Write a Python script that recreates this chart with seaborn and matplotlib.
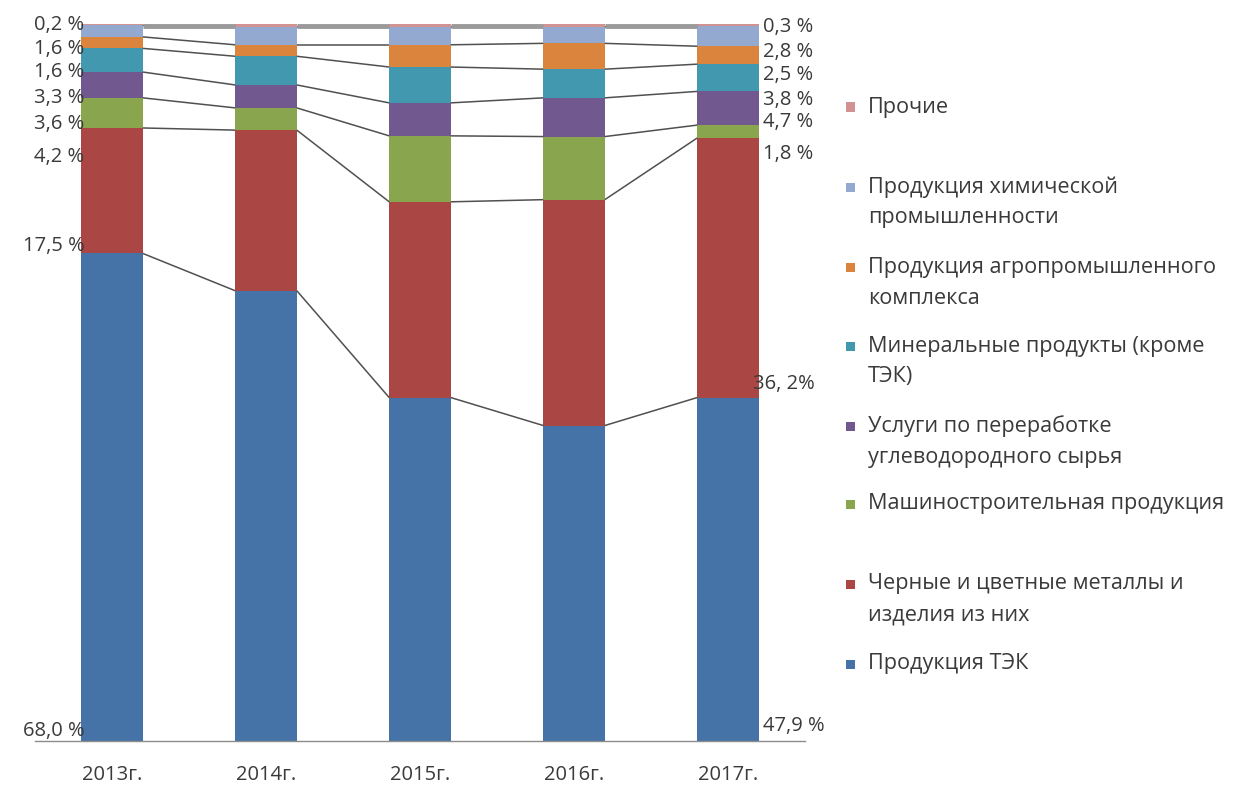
import matplotlib
matplotlib.use("Agg")
import matplotlib.pyplot as plt
import seaborn as sns
import numpy as np
import pandas as pd
from matplotlib.patches import Rectangle

# ---------------- data ----------------
years = ['2013г.', '2014г.', '2015г.', '2016г.', '2017г.']
series_names = [
    'Продукция ТЭК',
    'Черные и цветные металлы и\nизделия из них',
    'Машиностроительная продукция',
    'Услуги по переработке\nуглеводородного сырья',
    'Минеральные продукты (кроме\nТЭК)',
    'Продукция агропромышленного\nкомплекса',
    'Продукция химической\nпромышленности',
    'Прочие',
]
tek       = [68.0, 62.8, 47.9, 44.0, 47.9]
metals    = [17.5, 22.4, 27.3, 31.5, 36.2]
machinery = [4.2, 3.1, 9.2, 8.8, 1.8]
services  = [3.6, 3.2, 4.6, 5.4, 4.7]
mineral   = [3.3, 4.0, 5.0, 4.0, 3.8]
agro      = [1.6, 1.6, 3.1, 3.6, 2.5]
chem      = [1.6, 2.5, 2.5, 2.3, 2.8]
other     = [0.2, 0.4, 0.4, 0.4, 0.3]

left_labels = ['0,2 %', '1,6 %', '1,6 %', '3,3 %', '3,6 %', '4,2 %', '17,5 %', '68,0 %']
right_labels = ['0,3 %', '2,8 %', '2,5 %', '3,8 %', '4,7 %', '1,8 %', '36, 2%', '47,9 %']

colors = ['#4572A7', '#AA4643', '#89A54E', '#71588F',
          '#4198AF', '#DB843D', '#93A9CF', '#D19392']

values = np.array([tek, metals, machinery, services, mineral, agro, chem, other])
cum = np.cumsum(values, axis=0)

# ---------------- figure ----------------
sns.set_theme(style='white')
plt.rcParams['font.family'] = ['Open Sans', 'DejaVu Sans']
text_color = '#3a3a3a'

W, H = 1237, 787
fig = plt.figure(figsize=(W / 100, H / 100), dpi=100)
fig.patch.set_facecolor('white')
ax = fig.add_axes([35 / W, 1 - 741 / H, (805 - 35) / W, (741 - 24) / H])
ax.set_facecolor('white')

bar_w = 0.4
# draw cumulative bars from top layer down so they stack visually
for i in range(len(series_names) - 1, -1, -1):
    df = pd.DataFrame({'year': years, 'cum': cum[i]})
    sns.barplot(data=df, x='year', y='cum', color=colors[i], saturation=1,
                width=bar_w, ax=ax, linewidth=0, errorbar=None)

# connector lines between bars at each cumulative boundary
xs = np.arange(len(years))
for i in range(len(series_names)):
    for j in range(len(years) - 1):
        is_top = i == len(series_names) - 1
        ax.plot([xs[j] + bar_w / 2, xs[j + 1] - bar_w / 2],
                [cum[i][j] - (0.25 if is_top else 0), cum[i][j + 1] - (0.25 if is_top else 0)],
                color='#9a9a9a' if is_top else '#505050',
                lw=3.5 if is_top else 1.1, solid_capstyle='butt', zorder=3,
                clip_on=False)

ax.set_xlim(-0.5, len(years) - 0.5)
ax.set_ylim(0, 100)
ax.set_xlabel('')
ax.set_ylabel('')
ax.set_yticks([])
for s in ['left', 'right', 'top']:
    ax.spines[s].set_visible(False)
ax.spines['bottom'].set_color('#8c8c8c')
ax.spines['bottom'].set_linewidth(1.0)
ax.set_xticks(xs)
ax.set_xticklabels(years, fontsize=14.5, color=text_color)
ax.tick_params(axis='x', which='major', length=0, pad=17)
ax.set_xticks(np.arange(-0.5, len(years)), minor=True)
ax.tick_params(axis='x', which='minor', length=8, color='#8c8c8c', width=1.0, direction='out')

# value labels at left of 2013 and right of 2017
def px_to_y(py):
    return (741 - py) / 7.17

left_y_px = [25, 49, 72, 98, 124, 157, 246, 731]
right_y_px = [27, 52, 75, 100, 122, 154, 384, 726]
for lab, py in zip(left_labels, left_y_px):
    ax.text(-bar_w / 2 + 0.02, px_to_y(py), lab, ha='right', va='center',
            fontsize=14.5, color=text_color, zorder=5)
for k, (lab, py) in enumerate(zip(right_labels, right_y_px)):
    x0 = xs[-1] + bar_w / 2 + (0.03 if k != 6 else -0.04)
    ax.text(x0, px_to_y(py), lab, ha='left', va='center',
            fontsize=14.5, color=text_color, zorder=5)

# ---------------- legend (manual, Excel-like layout) ----------------
leg_first_px = [107, 187, 267, 346, 426, 504, 584, 664]
order = list(range(len(series_names) - 1, -1, -1))
for slot, i in enumerate(order):
    yc = leg_first_px[slot]
    fig.patches.append(Rectangle((846 / W, 1 - (yc + 4.5) / H), 9 / W, 9 / H,
                                 transform=fig.transFigure, facecolor=colors[i],
                                 edgecolor='none'))
    for ln, line in enumerate(series_names[i].split('\n')):
        fig.text(868 / W, 1 - (yc + ln * 31) / H, line, ha='left', va='center',
                 fontsize=15.6, color=text_color)

fig.savefig('out.png', dpi=100, facecolor='white')
